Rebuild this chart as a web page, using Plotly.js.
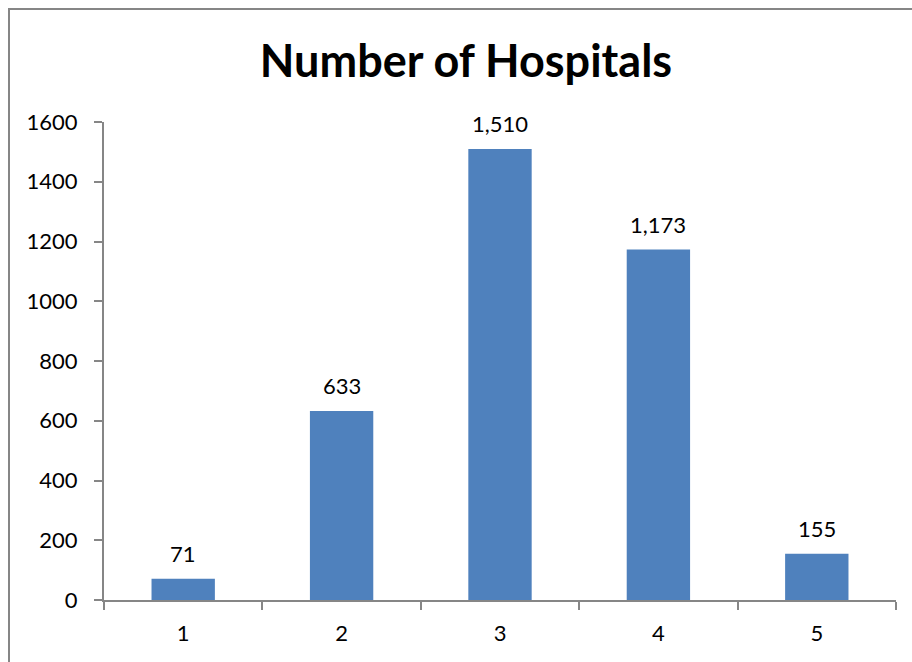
<!DOCTYPE html>
<html>
<head>
<meta charset="utf-8">
<script src="https://cdn.plot.ly/plotly-3.0.1.min.js"></script>
<style>
html,body{margin:0;padding:0;overflow:hidden;background:#fff;}
#frame{position:absolute;left:8px;top:8px;width:1000px;height:1000px;border-left:2px solid #868686;border-top:2px solid #868686;pointer-events:none;}
#chart{position:absolute;left:0;top:0;width:912px;height:662px;}
</style>
</head>
<body>
<div id="chart"></div>
<div id="frame"></div>
<script>
var categories = ['1', '2', '3', '4', '5'];
var hospitals = [71, 633, 1510, 1173, 155];
var yTicks = [0, 200, 400, 600, 800, 1000, 1200, 1400, 1600];

var axisColor = '#868686';
var fontFam = 'Lato, "Open Sans", sans-serif';

var trace = {
  type: 'bar',
  x: categories,
  y: hospitals,
  marker: {color: '#4F81BD'},
  width: 0.4,
  cliponaxis: false,
  hoverinfo: 'x+y'
};

// annotation x given as category index so it sits on its bar
var labels = categories.map(function (c, i) {
  return {
    x: i,
    y: hospitals[i],
    xref: 'x',
    yref: 'y',
    text: hospitals[i].toLocaleString('en-US'),
    showarrow: false,
    yanchor: 'middle',
    yshift: 25,
    font: {family: fontFam, size: 22, color: '#000'}
  };
});

var layout = {
  width: 912,
  height: 662,
  margin: {l: 104, r: 16, t: 122, b: 62},
  paper_bgcolor: 'rgba(0,0,0,0)',
  plot_bgcolor: 'rgba(0,0,0,0)',
  showlegend: false,
  annotations: labels,
  title: {
    text: '<b>Number of Hospitals</b>',
    font: {family: fontFam, size: 45, color: '#000'},
    x: 466 / 912, xref: 'container', xanchor: 'center',
    y: 1 - 61 / 662, yref: 'container', yanchor: 'middle'
  },
  xaxis: {
    type: 'category',
    range: [-0.5, categories.length - 0.5],
    showline: true,
    linecolor: axisColor,
    linewidth: 2,
    ticks: 'outside',
    tickson: 'boundaries',
    ticklen: 8,
    tickwidth: 2,
    tickcolor: axisColor,
    showgrid: false,
    tickfont: {family: fontFam, size: 22, color: '#000'},
    ticklabelstandoff: 13,
    fixedrange: true
  },
  yaxis: {
    range: [0, 1600],
    tickvals: yTicks,
    ticktext: yTicks.map(String),
    showline: true,
    linecolor: axisColor,
    linewidth: 2,
    ticks: 'outside',
    ticklen: 8,
    tickwidth: 2,
    tickcolor: axisColor,
    showgrid: false,
    zeroline: false,
    tickfont: {family: fontFam, size: 22, color: '#000'},
    ticklabelstandoff: 12,
    fixedrange: true
  }
};

Plotly.newPlot('chart', [trace], layout, {displayModeBar: false, staticPlot: true});
</script>
</body>
</html>
